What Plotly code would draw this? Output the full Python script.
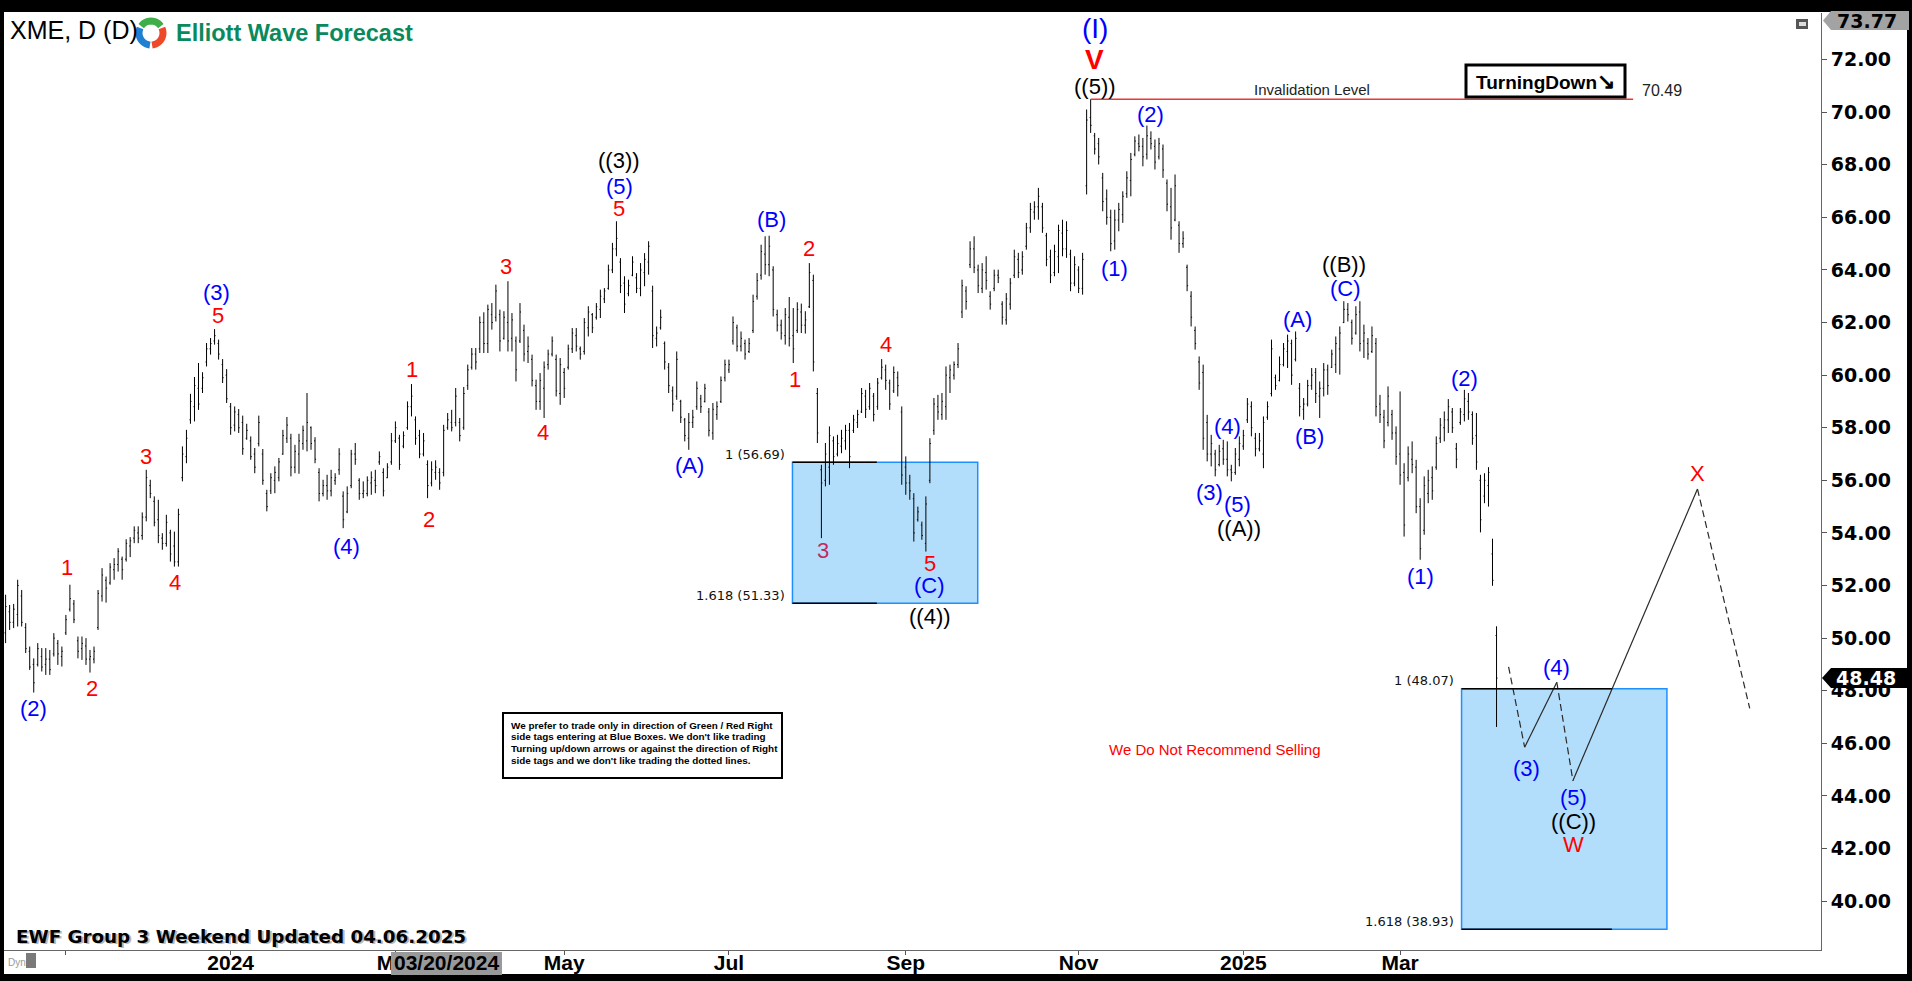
import math
import pandas as pd
import plotly.graph_objects as go

# ---------------------------------------------------------------------------
# US market holidays inside the charted window (also used to collapse the axis)
HOLIDAYS = [
    "2023-11-23", "2023-12-25", "2024-01-01", "2024-01-15", "2024-02-19",
    "2024-03-29", "2024-05-27", "2024-06-19", "2024-07-04", "2024-09-02",
    "2024-11-28", "2024-12-25", "2025-01-01", "2025-01-09", "2025-01-20",
    "2025-02-17", "2025-04-18", "2025-05-26", "2025-06-19", "2025-07-04",
]

# ---------------------------------------------------------------------------
# XME daily bars, 2023-10-11 .. 2025-04-04
high = [
    51.65, 51.26, 51.30, 52.22, 51.83, 50.57, 49.68, 49.23, 49.81, 49.62,
    49.62, 49.55, 50.19, 49.93, 49.68, 50.88, 52.03, 51.45, 50.06, 50.06,
    50.00, 49.55, 49.68, 51.83, 52.66, 52.34, 52.85, 53.04, 53.42, 53.10,
    53.76, 53.84, 54.25, 54.25, 54.78, 56.40, 56.02, 55.39, 55.26, 53.99,
    54.69, 54.12, 54.05, 54.92, 57.29, 57.92, 59.29, 59.93, 60.46, 60.11,
    61.22, 61.41, 61.75, 61.35, 60.61, 60.23, 58.94, 58.81, 58.71, 58.46,
    58.15, 57.67, 57.23, 58.46, 57.19, 55.64, 56.27, 56.53, 56.85, 57.92,
    58.41, 57.77, 57.35, 57.77, 58.08, 59.32, 58.05, 57.64, 56.46, 56.02,
    56.21, 56.40, 56.27, 57.22, 55.58, 55.77, 57.16, 57.42, 56.08, 55.96,
    56.15, 56.34, 56.40, 57.10, 56.46, 56.65, 57.80, 58.24, 57.73, 57.86,
    59.00, 59.66, 58.43, 57.92, 57.80, 56.76, 56.72, 56.76, 56.46, 58.11,
    58.56, 58.68, 59.51, 58.37, 59.55, 60.40, 61.03, 61.03, 62.23, 62.39,
    62.68, 62.74, 63.44, 62.49, 62.43, 63.57, 62.36, 61.47, 62.74, 61.92,
    61.47, 60.78, 59.83, 60.08, 60.52, 60.97, 61.47, 60.78, 60.65, 60.27,
    61.16, 61.79, 61.79, 61.09, 62.17, 62.62, 62.36, 62.74, 63.25, 63.31,
    64.20, 65.03, 65.85, 64.45, 63.76, 63.63, 64.52, 63.88, 64.26, 64.64,
    65.09, 63.40, 61.85, 62.49, 61.28, 60.46, 59.57, 60.90, 59.06, 58.37,
    58.56, 58.68, 59.76, 59.25, 59.67, 58.75, 58.94, 59.00, 59.95, 60.59,
    60.59, 62.23, 61.92, 61.66, 61.35, 61.41, 63.06, 63.88, 64.96, 65.28,
    65.30, 64.14, 62.49, 62.11, 62.55, 62.97, 62.55, 62.77, 62.72, 62.43,
    64.26, 63.82, 59.51, 56.59, 57.42, 58.05, 57.67, 57.73, 57.92, 58.11,
    58.18, 58.49, 58.68, 59.51, 59.44, 59.70, 59.32, 59.89, 60.61, 60.40,
    59.83, 60.33, 60.14, 58.81, 56.91, 56.21, 55.51, 55.00, 54.43, 55.39,
    57.60, 59.13, 59.25, 59.32, 60.33, 60.40, 60.52, 61.22, 63.63, 63.38,
    65.09, 65.28, 64.20, 64.26, 64.52, 63.19, 64.01, 64.01, 62.81, 63.12,
    63.69, 64.77, 64.65, 64.71, 65.79, 66.55, 66.61, 67.12, 66.55, 65.41,
    64.77, 64.96, 65.72, 65.91, 65.85, 64.77, 64.52, 64.14, 64.65, 70.10,
    70.49, 69.21, 69.02, 67.69, 67.06, 66.29, 66.29, 66.55, 66.99, 67.75,
    68.45, 69.08, 69.15, 69.02, 69.49, 69.27, 68.96, 69.02, 68.77, 67.44,
    67.12, 67.63, 65.85, 65.47, 64.20, 63.19, 61.85, 60.71, 60.40, 58.49,
    57.73, 57.16, 57.35, 57.54, 57.48, 56.59, 57.23, 57.67, 57.92, 59.13,
    59.00, 57.80, 57.80, 58.43, 59.00, 61.35, 60.02, 60.71, 61.22, 61.54,
    61.35, 61.66, 59.70, 59.13, 59.82, 60.27, 60.27, 59.76, 60.46, 60.40,
    60.97, 61.47, 61.85, 62.81, 62.74, 62.11, 62.62, 62.81, 61.92, 61.41,
    61.85, 61.41, 59.25, 58.68, 59.57, 58.68, 58.05, 59.38, 56.65, 57.29,
    57.48, 56.78, 55.32, 56.15, 56.40, 56.53, 57.67, 58.37, 58.62, 59.09,
    58.75, 57.42, 58.75, 59.44, 59.32, 58.62, 58.56, 56.21, 56.27, 56.50,
    53.78, 50.45,
]
low = [
    49.81, 50.31, 50.38, 50.44, 50.44, 49.43, 48.79, 47.93, 48.92, 48.73,
    48.60, 48.60, 49.30, 48.98, 48.92, 50.12, 51.01, 50.57, 49.23, 49.17,
    48.98, 48.69, 49.04, 50.31, 51.39, 51.35, 52.03, 52.22, 52.53, 52.22,
    52.91, 53.08, 53.61, 53.61, 53.74, 54.44, 55.32, 54.25, 53.61, 53.36,
    53.48, 52.91, 52.72, 52.72, 55.96, 56.65, 58.15, 58.24, 58.68, 59.32,
    60.33, 60.78, 61.16, 60.59, 59.70, 58.94, 57.73, 57.86, 57.80, 56.97,
    57.54, 56.78, 56.27, 57.29, 55.83, 54.82, 55.48, 55.51, 55.96, 56.97,
    57.42, 56.15, 56.27, 56.25, 57.16, 57.10, 57.16, 56.65, 55.20, 55.39,
    55.26, 55.39, 55.83, 56.21, 54.18, 54.75, 55.70, 56.59, 55.26, 55.32,
    55.39, 55.45, 55.51, 56.59, 55.39, 56.08, 56.59, 57.42, 56.40, 57.22,
    57.92, 58.43, 57.35, 56.84, 56.91, 55.32, 55.77, 56.02, 55.64, 56.15,
    57.92, 57.86, 58.05, 57.48, 57.92, 59.44, 60.21, 60.21, 60.84, 60.84,
    60.84, 61.73, 62.04, 60.90, 61.35, 60.90, 60.90, 59.76, 61.22, 60.52,
    60.46, 59.57, 58.68, 58.68, 58.37, 60.21, 60.71, 59.19, 58.87, 59.13,
    60.21, 60.84, 60.90, 60.59, 60.78, 61.47, 61.60, 62.11, 62.17, 62.74,
    63.25, 63.88, 64.52, 63.12, 62.36, 63.00, 63.76, 63.12, 63.00, 63.38,
    63.82, 61.03, 61.09, 61.73, 60.21, 59.32, 58.62, 59.06, 58.18, 57.48,
    57.16, 57.99, 58.68, 58.56, 58.96, 57.67, 57.54, 58.30, 58.94, 59.76,
    60.08, 61.16, 60.90, 60.90, 60.59, 60.84, 61.60, 62.87, 63.63, 63.82,
    63.76, 62.23, 61.66, 61.35, 61.16, 61.09, 60.46, 61.60, 61.60, 61.58,
    62.55, 60.14, 57.42, 53.80, 55.77, 55.83, 56.59, 56.91, 57.03, 57.16,
    56.46, 57.80, 57.99, 58.56, 58.37, 58.68, 58.24, 58.68, 59.83, 59.44,
    58.68, 59.32, 59.19, 55.83, 55.45, 55.26, 53.67, 54.43, 53.74, 53.29,
    55.89, 57.73, 58.30, 58.30, 58.30, 59.32, 59.83, 60.27, 62.17, 62.49,
    64.07, 63.88, 63.12, 63.12, 63.25, 62.49, 63.19, 63.50, 61.92, 61.92,
    62.49, 63.69, 63.69, 63.82, 64.77, 65.41, 65.91, 65.91, 65.41, 64.14,
    63.50, 63.76, 63.88, 64.52, 64.46, 63.19, 63.38, 63.12, 63.06, 66.87,
    69.21, 68.39, 68.01, 66.23, 65.72, 64.71, 64.77, 65.47, 65.79, 66.74,
    66.80, 68.32, 68.51, 67.94, 68.20, 68.58, 67.82, 68.20, 67.50, 66.23,
    65.15, 65.85, 64.65, 64.84, 63.19, 61.85, 60.97, 59.44, 57.16, 56.72,
    56.53, 56.15, 56.53, 56.59, 56.15, 55.96, 56.21, 56.53, 57.16, 58.18,
    57.67, 56.91, 57.10, 56.46, 58.30, 59.19, 59.44, 59.76, 60.33, 60.27,
    59.63, 60.52, 58.43, 58.30, 58.81, 59.44, 58.94, 58.37, 59.19, 59.25,
    60.27, 60.08, 60.02, 61.98, 62.04, 61.16, 61.54, 60.90, 60.65, 60.59,
    60.84, 58.43, 58.18, 57.22, 58.05, 57.54, 56.59, 55.83, 53.86, 55.96,
    56.27, 54.75, 52.98, 53.93, 55.13, 55.26, 56.40, 57.42, 57.48, 57.80,
    57.80, 56.46, 58.11, 58.24, 58.30, 57.35, 56.40, 54.02, 55.13, 55.00,
    51.99, 46.62,
]
open_ = [
    50.2, 51.0, 50.6, 50.9, 51.6, 50.4, 49.5, 49.0, 49.0, 49.3,
    49.0, 49.2, 49.4, 49.8, 49.3, 50.2, 51.1, 51.3, 49.9, 49.6,
    49.7, 49.2, 49.2, 50.4, 51.6, 52.2, 52.1, 52.6, 52.8, 53.0,
    53.0, 53.5, 53.8, 54.0, 53.9, 54.6, 55.8, 55.2, 54.5, 53.8,
    53.6, 54.0, 53.5, 52.9, 56.1, 56.9, 58.3, 58.8, 59.5, 59.5,
    60.5, 61.0, 61.3, 61.2, 60.4, 60.0, 58.8, 58.1, 58.5, 58.2,
    57.6, 57.5, 57.0, 57.4, 57.0, 55.5, 55.6, 56.0, 56.1, 57.0,
    57.6, 57.6, 56.5, 57.0, 57.4, 57.5, 58.0, 57.5, 56.3, 55.5,
    55.8, 55.6, 56.0, 56.4, 55.4, 54.8, 55.8, 57.0, 56.0, 55.5,
    55.5, 55.9, 56.0, 56.7, 56.3, 56.1, 56.7, 57.5, 57.6, 57.3,
    58.0, 58.8, 58.3, 57.7, 57.0, 56.6, 55.9, 56.3, 56.3, 56.3,
    58.0, 58.2, 58.2, 58.2, 58.0, 59.6, 60.3, 60.8, 61.0, 62.0,
    61.2, 62.3, 62.2, 62.3, 61.4, 62.0, 61.4, 61.3, 61.3, 61.7,
    60.9, 60.6, 59.6, 59.0, 59.5, 60.4, 60.8, 60.6, 59.3, 60.1,
    60.3, 61.0, 61.5, 61.0, 60.9, 61.8, 62.3, 62.2, 62.5, 62.9,
    63.3, 64.0, 64.8, 64.3, 63.5, 63.1, 63.8, 63.7, 63.3, 63.9,
    64.3, 63.2, 61.4, 61.8, 61.2, 60.3, 59.4, 59.2, 59.0, 58.3,
    57.6, 58.2, 58.8, 59.1, 59.0, 58.6, 57.8, 58.5, 59.0, 59.9,
    60.2, 61.3, 61.8, 61.1, 61.2, 60.9, 61.7, 63.0, 63.8, 64.6,
    64.2, 64.0, 62.3, 61.9, 61.5, 62.2, 61.5, 61.7, 62.4, 61.9,
    62.6, 63.6, 59.3, 56.4, 56.0, 56.5, 57.5, 57.0, 57.3, 57.5,
    57.9, 57.9, 58.2, 58.6, 59.2, 58.8, 59.2, 58.8, 59.9, 60.2,
    59.7, 59.4, 59.9, 58.6, 56.5, 55.9, 55.3, 54.5, 54.3, 53.6,
    56.0, 57.9, 58.8, 58.5, 58.8, 59.9, 60.0, 60.4, 62.4, 63.2,
    64.2, 64.8, 64.0, 63.3, 63.9, 63.0, 63.3, 63.8, 62.7, 62.1,
    62.7, 63.8, 64.4, 64.0, 64.9, 65.6, 66.2, 66.4, 66.4, 65.3,
    64.5, 63.9, 64.5, 65.4, 64.8, 64.6, 63.5, 64.0, 63.3, 67.2,
    69.8, 69.1, 68.8, 67.5, 66.7, 66.0, 65.1, 65.9, 66.1, 66.9,
    67.4, 68.4, 68.8, 68.7, 68.4, 69.0, 68.7, 68.3, 68.6, 67.3,
    66.4, 65.9, 65.7, 65.0, 64.1, 63.0, 61.7, 60.5, 60.1, 58.2,
    57.0, 57.0, 56.6, 57.2, 56.8, 56.4, 56.3, 56.8, 57.3, 58.3,
    58.8, 57.6, 57.2, 57.0, 58.4, 59.3, 59.9, 59.8, 60.4, 60.9,
    61.2, 60.6, 59.5, 58.7, 58.9, 59.6, 60.1, 59.2, 59.5, 60.2,
    60.3, 60.4, 61.0, 62.0, 62.5, 62.0, 61.6, 62.4, 61.3, 61.2,
    60.9, 61.2, 58.9, 58.4, 58.2, 58.5, 57.8, 57.0, 56.3, 56.1,
    56.8, 56.5, 55.0, 54.1, 55.5, 56.1, 56.5, 57.6, 58.0, 58.3,
    58.6, 57.2, 58.2, 58.5, 59.0, 58.5, 57.7, 56.0, 55.4, 55.8,
    53.2, 50.1,
]
close = [
    51.2, 50.6, 51.1, 52.0, 50.6, 49.6, 48.9, 48.3, 49.6, 48.9,
    49.2, 48.8, 50.0, 49.4, 49.5, 50.7, 51.5, 50.7, 49.5, 49.8,
    49.2, 49.3, 49.5, 51.7, 52.4, 51.9, 52.7, 52.8, 53.3, 52.6,
    53.6, 53.7, 54.1, 53.8, 54.6, 56.1, 55.5, 54.4, 53.9, 53.6,
    54.4, 53.2, 52.9, 54.7, 57.0, 57.6, 59.0, 59.6, 58.9, 59.9,
    61.0, 61.2, 61.5, 60.8, 59.9, 59.1, 58.0, 58.6, 58.0, 57.2,
    57.9, 56.9, 56.5, 58.2, 56.0, 55.0, 56.1, 56.3, 56.7, 57.7,
    58.1, 56.5, 57.1, 57.5, 57.9, 58.2, 57.4, 56.8, 55.5, 55.8,
    55.6, 56.1, 56.1, 57.0, 54.5, 55.5, 57.0, 56.8, 55.5, 55.6,
    56.0, 56.1, 55.8, 56.9, 55.6, 56.5, 57.5, 58.0, 56.6, 57.7,
    58.8, 59.2, 57.6, 57.0, 57.5, 55.8, 56.4, 56.5, 55.9, 57.9,
    58.3, 58.0, 59.2, 57.7, 59.3, 60.2, 60.8, 60.5, 62.0, 61.2,
    62.5, 62.0, 63.2, 61.3, 62.2, 61.3, 62.1, 60.2, 62.4, 60.8,
    61.1, 59.8, 59.0, 59.8, 60.3, 60.8, 61.3, 59.4, 60.4, 59.5,
    61.0, 61.6, 61.1, 60.8, 62.0, 62.4, 61.8, 62.6, 63.0, 63.2,
    64.0, 64.8, 65.2, 63.4, 62.7, 63.4, 64.3, 63.3, 64.0, 64.4,
    64.9, 61.5, 61.6, 62.2, 60.5, 59.6, 58.9, 60.6, 58.4, 57.7,
    58.2, 58.4, 59.5, 58.8, 59.5, 57.9, 58.7, 58.8, 59.8, 60.4,
    60.4, 62.0, 61.1, 61.4, 60.8, 61.2, 62.8, 63.6, 64.7, 64.2,
    64.9, 62.5, 61.9, 61.6, 62.3, 61.4, 61.0, 62.5, 61.9, 62.1,
    63.9, 60.5, 57.8, 55.9, 57.0, 57.7, 56.9, 57.4, 57.6, 57.9,
    56.9, 58.3, 58.5, 59.3, 58.7, 59.5, 58.5, 59.7, 60.3, 59.8,
    58.9, 60.1, 59.6, 56.2, 55.9, 55.6, 54.0, 54.8, 53.9, 55.1,
    57.4, 58.9, 58.6, 59.0, 60.0, 60.2, 60.4, 61.0, 63.4, 62.8,
    64.8, 64.1, 63.4, 64.0, 63.6, 62.7, 63.8, 63.7, 62.2, 62.9,
    63.5, 64.5, 63.9, 64.5, 65.6, 66.3, 66.4, 66.8, 65.6, 64.4,
    63.8, 64.7, 65.5, 64.8, 65.5, 63.5, 64.2, 63.3, 64.4, 69.7,
    69.5, 68.6, 68.3, 66.6, 66.0, 65.0, 65.9, 66.3, 66.8, 67.5,
    68.2, 68.9, 68.7, 68.3, 69.1, 68.8, 68.1, 68.8, 67.8, 66.5,
    65.6, 67.2, 65.0, 65.2, 63.4, 62.2, 61.2, 59.7, 57.6, 57.0,
    57.4, 56.4, 57.1, 56.8, 56.4, 56.3, 57.0, 57.4, 57.7, 58.9,
    58.0, 57.2, 57.5, 58.2, 58.8, 61.0, 59.6, 60.4, 61.0, 61.3,
    60.0, 61.4, 58.8, 58.9, 59.6, 60.0, 59.3, 59.5, 60.2, 59.6,
    60.8, 61.2, 61.6, 62.5, 62.3, 61.4, 62.3, 61.2, 61.6, 60.8,
    61.5, 58.8, 58.5, 57.5, 59.2, 57.8, 56.9, 56.2, 54.3, 57.0,
    56.6, 55.0, 53.4, 55.8, 56.0, 55.6, 57.4, 58.1, 58.3, 58.8,
    58.0, 56.8, 58.6, 59.1, 58.6, 57.6, 56.7, 54.5, 56.0, 56.3,
    52.2, 48.48,
]

sessions = pd.bdate_range("2023-09-01", "2025-04-04", freq="C", holidays=HOLIDAYS)
dates = [d.strftime("%Y-%m-%d") for d in sessions[-len(high):]]
bar = {d: (h, l) for d, h, l in zip(dates, high, low)}

# ---------------------------------------------------------------------------
BLUE, RED, BLACK, MAROON = "#0000FF", "#FF0000", "#000000", "#C02C5C"

# wave labels: (pivot bar, text, colour, H/L of that bar, y offset px, x offset px[, size, bold])
wave_labels = [
    ("2023-10-20", "(2)", BLUE, "L", -16, 0),
    ("2023-11-02", "1", RED, "H", 17, -3),
    ("2023-11-09", "2", RED, "L", -16, 2),
    ("2023-11-30", "3", RED, "H", 13, 0),
    ("2023-12-11", "4", RED, "L", -16, 1),
    ("2023-12-26", "5", RED, "H", 14, 3),
    ("2023-12-26", "(3)", BLUE, "H", 37, 2),
    ("2024-02-12", "(4)", BLUE, "L", -18, 3),
    ("2024-03-07", "1", RED, "H", 15, 1),
    ("2024-03-13", "2", RED, "L", -21, 1),
    ("2024-04-11", "3", RED, "H", 15, -2),
    ("2024-04-24", "4", RED, "L", -15, -1),
    ("2024-05-20", "5", RED, "H", 13, 3),
    ("2024-05-20", "(5)", BLUE, "H", 35, 3),
    ("2024-05-20", "((3))", BLACK, "H", 61, 3),
    ("2024-06-14", "(A)", BLUE, "L", -16, 1),
    ("2024-07-16", "(B)", BLUE, "H", 16, 2),
    ("2024-07-24", "1", RED, "L", -16, 2),
    ("2024-07-30", "2", RED, "H", 15, 0),
    ("2024-08-02", "3", MAROON, "L", -12, 2),
    ("2024-08-23", "4", RED, "H", 15, 4),
    ("2024-09-10", "5", RED, "L", -12, 4),
    ("2024-09-10", "(C)", BLUE, "L", -34, 4),
    ("2024-09-10", "((4))", BLACK, "L", -65, 4),
    ("2024-11-06", "((5))", BLACK, "H", 13, 4),
    ("2024-11-06", "V", RED, "H", 40, 4, 28, True),
    ("2024-11-06", "(I)", BLUE, "H", 71, 4, 28),
    ("2024-11-14", "(1)", BLUE, "L", -19, 0),
    ("2024-11-26", "(2)", BLUE, "H", 11, 4),
    ("2024-12-19", "(3)", BLUE, "L", -26, -2),
    ("2024-12-26", "(4)", BLUE, "H", 15, 0),
    ("2024-12-27", "(5)", BLUE, "L", -23, 6),
    ("2024-12-27", "((A))", BLACK, "L", -47, 8),
    ("2025-01-23", "(A)", BLUE, "H", 12, 2),
    ("2025-01-27", "(B)", BLUE, "L", -17, 6),
    ("2025-02-10", "(C)", BLUE, "H", 13, 2),
    ("2025-02-10", "((B))", BLACK, "H", 37, 0),
    ("2025-03-10", "(1)", BLUE, "L", -17, 0),
    ("2025-03-25", "(2)", BLUE, "H", 11, 0),
]

# projected path after the last bar
proj_dates = ["2025-04-09", "2025-04-15", "2025-04-28", "2025-05-02", "2025-06-17", "2025-07-08"]
proj_prices = [48.91, 45.85, 48.32, 44.58, 55.67, 47.33]
proj_dash = ["7px,4px", "solid", "7px,4px", "solid", "7px,4px"]
proj_labels = [
    ("2025-04-15", "(3)", BLUE, -21, 2),
    ("2025-04-28", "(4)", BLUE, 15, 0),
    ("2025-05-02", "(5)", BLUE, -17, 1),
    ("2025-05-02", "((C))", BLACK, -41, 1),
    ("2025-05-02", "W", RED, -64, 1),
    ("2025-06-17", "X", RED, 15, 0),
]

# fibonacci extension areas: (ratio, level) pairs and their time span
box_top = [(1.0, 56.69), (1.0, 48.07)]
box_bottom = [(1.618, 51.33), (1.618, 38.93)]
box_start = ["2024-07-23 19:12", "2025-03-24 07:12"]
box_end = ["2024-09-26 21:36", "2025-06-05 09:36"]
box_rule_end = ["2024-08-21 19:12", "2025-05-15 16:48"]
box_label_at = ["2024-07-22 09:36", "2025-03-20 21:36"]

invalidation = 70.49
inval_span = ["2024-11-06", "2025-05-23"]

month_ticks = ["2023-11-01", "2024-01-02", "2024-03-01", "2024-05-01", "2024-07-01",
               "2024-09-03", "2024-11-01", "2025-01-02", "2025-03-03"]
month_text = ["", "2024", "Mar", "May", "Jul", "Sep", "Nov", "2025", "Mar"]
cursor_date = "2024-03-20"

X_RANGE = ["2023-10-10 14:24", "2025-07-31 17:46"]
Y_RANGE = [38.14, 73.77]

# ---------------------------------------------------------------------------
W, H = 1912, 981
ML, MR, MT, MB = 4, 91, 13, 31
ARIAL = "Liberation Sans, Arial, sans-serif"
DEJAVU = "DejaVu Sans, Verdana, sans-serif"


def px(x):
    return (x - ML) / (W - ML - MR)


def py(y):
    return (H - MB - y) / (H - MT - MB)


fig = go.Figure()
fig.add_trace(go.Ohlc(
    x=dates, open=open_, high=high, low=low, close=close,
    increasing=dict(line=dict(color="black", width=1)),
    decreasing=dict(line=dict(color="black", width=1)),
    tickwidth=0.25, hoverinfo="skip", showlegend=False,
))

for k, dash in enumerate(proj_dash):
    fig.add_trace(go.Scatter(
        x=proj_dates[k:k + 2], y=proj_prices[k:k + 2], mode="lines",
        line=dict(color="#2a2a2a", width=1.2, dash=dash),
        hoverinfo="skip", showlegend=False,
    ))

shapes, annotations = [], []

# fibonacci areas
for k in range(2):
    (r0, top), (r1, bot) = box_top[k], box_bottom[k]
    shapes.append(dict(type="rect", xref="x", yref="y", x0=box_start[k], x1=box_end[k],
                       y0=bot, y1=top, fillcolor="#B3DEFB",
                       line=dict(color="#1E8FFF", width=1.5), layer="below"))
    for r, lvl in ((r0, top), (r1, bot)):
        shapes.append(dict(type="line", xref="x", yref="y", x0=box_start[k], x1=box_rule_end[k],
                           y0=lvl, y1=lvl, line=dict(color="black", width=1.5)))
        annotations.append(dict(x=box_label_at[k], y=lvl, xref="x", yref="y",
                                text=f"{r:g} ({lvl:.2f})", showarrow=False,
                                xanchor="right", yanchor="middle", yshift=8,
                                font=dict(family=DEJAVU, size=13, color="#111")))

# invalidation level
shapes.append(dict(type="line", xref="x", yref="y", x0=inval_span[0], x1=inval_span[1],
                   y0=invalidation, y1=invalidation, line=dict(color="#F03434", width=1.3)))
annotations.append(dict(x="2025-01-29 02:24", y=invalidation, xref="x", yref="y",
                        text="Invalidation Level", showarrow=False, yshift=10,
                        font=dict(family=ARIAL, size=15, color="#222")))
annotations.append(dict(x="2025-05-27", y=invalidation, xref="x", yref="y",
                        text=f"{invalidation:.2f}", showarrow=False, xanchor="left",
                        yshift=9, xshift=3, font=dict(family=ARIAL, size=16, color="#222")))


def wave(x, y, text, color, size, dy, dx, bold=False):
    return dict(x=x, y=y, xref="x", yref="y", text=text, showarrow=False,
                xanchor="center", yanchor="middle", yshift=dy, xshift=dx,
                font=dict(family=ARIAL, size=size, color=color,
                          weight="bold" if bold else "normal"))


for d, text, color, side, dy, dx, *extra in wave_labels:
    h, l = bar[d]
    size = extra[0] if extra else 22
    bold = extra[1] if len(extra) > 1 else False
    annotations.append(wave(d, h if side == "H" else l, text, color, size, dy, dx, bold))

proj_at = dict(zip(proj_dates, proj_prices))
for d, text, color, dy, dx in proj_labels:
    annotations.append(wave(d, proj_at[d], text, color, 22, dy, dx))


def note(x, y, text, size, color, family=ARIAL, xanchor="left", weight="normal"):
    annotations.append(dict(x=px(x), y=py(y), xref="paper", yref="paper", text=text,
                            showarrow=False, xanchor=xanchor, yanchor="middle",
                            font=dict(family=family, size=size, color=color, weight=weight)))


def rect(x0, y0, x1, y1, fill, line_color=None, line_width=0):
    shapes.append(dict(type="rect", xref="paper", yref="paper",
                       x0=px(x0), x1=px(x1), y0=py(y1), y1=py(y0), fillcolor=fill,
                       line=dict(color=line_color or fill, width=line_width), layer="above"))


note(1214, 749, "We Do Not Recommend Selling", 15, RED, xanchor="center")

# trading note box
rect(503, 713, 782, 778, "white", "black", 2)
for k, line in enumerate([
    "We prefer to trade only in direction of Green / Red Right",
    "side tags entering at Blue Boxes. We don't like trading",
    "Turning up/down arrows or against the direction of Right",
    "side tags and we don't like trading the dotted lines.",
]):
    note(509, 725 + 11.7 * k, line, 9.9, "black", weight="bold")

# status tag
rect(1466, 65, 1625, 97, "white", "black", 3)
note(1545, 81, "TurningDown<span style='font-size:22px'>\u2198</span>", 19, "black",
     xanchor="center", weight="bold")

# header
note(8, 30, "XME, D (D)", 25, "black")
cx, cy, r = 151, 33, 12
for a0, a1, col in ((35, 145, "#3FAE49"), (155, 265, "#1F7FD0"), (275, 385, "#EE4A2A")):
    pts = []
    for s in range(13):
        a = math.radians(a0 + (a1 - a0) * s / 12)
        pts.append(f"{px(cx + r * math.cos(a)):.5f},{py(cy - r * math.sin(a)):.5f}")
    shapes.append(dict(type="path", xref="paper", yref="paper",
                       path="M " + " L ".join(pts), line=dict(color=col, width=7), layer="above"))
note(174, 33, "Elliott Wave Forecast", 23.5, "#0A8A5C", weight="bold")

# footer
footer = "EWF Group 3 Weekend Updated 04.06.2025"
note(15.5, 937.5, footer, 18.3, "#B8B8B8", family=DEJAVU, weight="bold")
note(14, 936, footer, 18.3, "black", family=DEJAVU, weight="bold")
note(6, 962, "Dyn", 10, "#9a9a9a")
rect(26, 953, 36, 968, "#7a7a7a")

# window chrome
rect(0, 0, W, 12, "black")
rect(0, 0, 4, H, "black")
rect(1907, 0, W, H, "black")
rect(0, 974, W, H, "black")
rect(1796, 19, 1808, 29, "#555555")
rect(1799, 22, 1806, 26, "#DDDDDD")

# crosshair date readout on the time axis
rect(391, 952, 502, 975, "#999999")
note(446.5, 962, pd.Timestamp(cursor_date).strftime("%m/%d/%Y"), 21, "black",
     xanchor="center", weight="bold")

# price tags on the value axis
top_tag = Y_RANGE[1]
shapes.append(dict(type="path", xref="paper", yref="paper", layer="above",
                   path=(f"M {px(1823)},{py(20.5)} L {px(1831)},{py(11)} L {px(1909)},{py(11)} "
                         f"L {px(1909)},{py(30)} L {px(1831)},{py(30)} Z"),
                   fillcolor="#A3A3A3", line=dict(color="#A3A3A3", width=0)))
note(1867, 21, f"{top_tag:.2f}", 19, "black", family=DEJAVU, xanchor="center", weight="bold")

last = close[-1]
half = 10 / ((H - MT - MB) / (Y_RANGE[1] - Y_RANGE[0]))
shapes.append(dict(type="path", xref="paper", yref="y", layer="above",
                   path=(f"M {px(1822)},{last} L {px(1831)},{last + half} L {px(1907)},{last + half} "
                         f"L {px(1907)},{last - half} L {px(1831)},{last - half} Z"),
                   fillcolor="black", line=dict(color="black", width=0)))
annotations.append(dict(x=px(1866), y=last, xref="paper", yref="y", text=f"{last:.2f}",
                        showarrow=False, xanchor="center", yanchor="middle",
                        font=dict(family=DEJAVU, size=19, color="white", weight="bold")))

fig.update_layout(
    width=W, height=H, margin=dict(l=ML, r=MR, t=MT, b=MB),
    paper_bgcolor="white", plot_bgcolor="white", showlegend=False,
    shapes=shapes, annotations=annotations,
    xaxis=dict(
        type="date", range=X_RANGE,
        rangebreaks=[dict(bounds=["sat", "mon"]), dict(values=HOLIDAYS)],
        rangeslider=dict(visible=False),
        tickmode="array", tickvals=month_ticks, ticktext=month_text,
        ticks="outside", ticklen=4, tickcolor="#555", ticklabelstandoff=-10,
        showgrid=False, zeroline=False, showline=True, linecolor="#666", linewidth=1,
        tickfont=dict(family=ARIAL, size=21, color="black", weight="bold"),
    ),
    yaxis=dict(
        side="right", range=Y_RANGE, tickmode="linear", tick0=40, dtick=2,
        tickformat=".2f", ticks="outside", ticklen=5, tickcolor="#555",
        showgrid=False, zeroline=False, showline=True, linecolor="#666", linewidth=1,
        tickfont=dict(family=DEJAVU, size=19, color="black", weight="bold"),
    ),
)

fig.write_html("out.html", config={"displayModeBar": False},
               post_script="document.body.style.margin='0';")
